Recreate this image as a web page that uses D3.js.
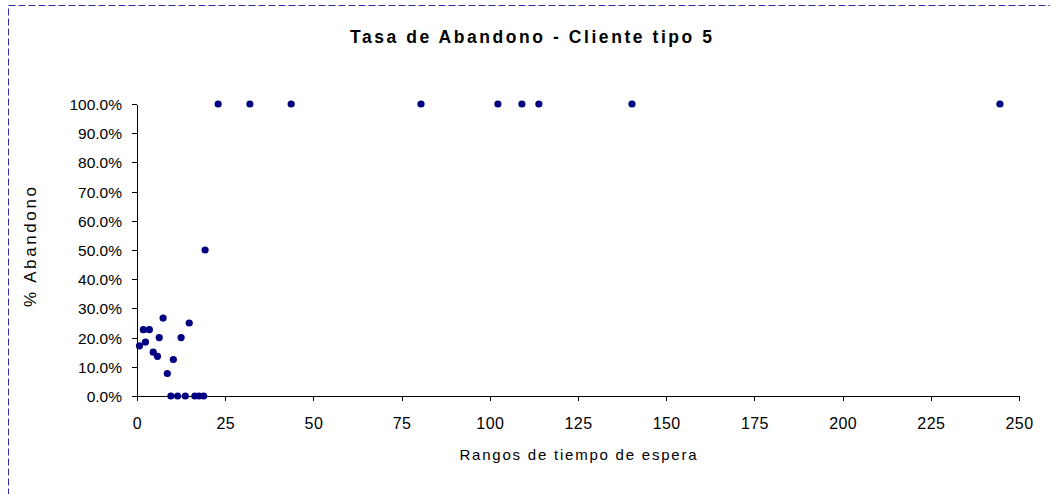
<!DOCTYPE html>
<html lang="en">
    <head>
        <meta charset="utf-8">
        <title>Tasa de Abandono - Cliente tipo 5</title>
        <script type="text/javascript" src="https://cdn.jsdelivr.net/npm/d3@7"></script>
        <style type="text/css">
            body { margin: 0; background: #fff; }
            svg { display: block; font-family: Arial, "Liberation Sans", sans-serif; }
        </style>
    </head>

    <body>
        <script type="text/javascript">
            // Tiempo de espera (x) y % de abandono (y)
            var tiempos = [0.7, 1.8, 3.5, 2.4, 7.4, 4.6, 5.8, 6.3, 14.8, 12.5, 10.3, 8.6, 19.3,
                           9.6, 11.5, 13.7, 16.4, 17.6, 18.9,
                           23.0, 32.0, 43.7, 80.5, 102.3, 109.1, 113.9, 140.3, 244.6];
            var abandono = [0.172, 0.227, 0.227, 0.185, 0.267, 0.150, 0.136, 0.200, 0.250, 0.200, 0.125, 0.077, 0.500,
                            0, 0, 0, 0, 0, 0,
                            1, 1, 1, 1, 1, 1, 1, 1, 1];
            var xTicks = [0, 25, 50, 75, 100, 125, 150, 175, 200, 225, 250];
            var yTicks = [0, 0.1, 0.2, 0.3, 0.4, 0.5, 0.6, 0.7, 0.8, 0.9, 1.0];

            var w = 1050;
            var h = 494;

            var svg = d3.select("body")
                        .append("svg")
                        .attr("width", w)
                        .attr("height", h);

            // marco del area del grafico (azul discontinuo)
            svg.append("rect")
                .attr("x", 8.5)
                .attr("y", 5.5)
                .attr("width", 1100)
                .attr("height", 600)
                .attr("fill", "none")
                .attr("stroke", "#2b2ba8")
                .attr("stroke-width", 1)
                .attr("stroke-dasharray", "7,3");

            var xScale = d3.scaleLinear()
                            .domain([0, 250])
                            .range([137, 1019]);
            var yScale = d3.scaleLinear()
                            .domain([0, 1])
                            .range([396, 104]);

            var xAxis = d3.axisBottom(xScale)
                            .tickValues(xTicks)
                            .tickSize(5)
                            .tickSizeOuter(0)
                            .tickFormat(d3.format("d"));
            var yAxis = d3.axisLeft(yScale)
                            .tickValues(yTicks)
                            .tickSize(5)
                            .tickSizeOuter(0)
                            .tickFormat(d3.format(".1%"));

            var gx = svg.append("g")
                .attr("transform", "translate(0,396)")
                .call(xAxis);
            gx.selectAll("text")
                .attr("dy", "0")
                .attr("y", 33)
                .attr("font-size", "16px")
                .attr("letter-spacing", "0.4px")
                .attr("font-family", "Arial, 'Liberation Sans', sans-serif")
                .attr("fill", "#000");

            var gy = svg.append("g")
                .attr("transform", "translate(137,0)")
                .call(yAxis);
            gy.selectAll("text")
                .attr("x", -15)
                .attr("dy", "0.36em")
                .attr("font-size", "15.5px")
                .attr("font-family", "Arial, 'Liberation Sans', sans-serif")
                .attr("fill", "#000");

            svg.selectAll(".domain, .tick line")
                .attr("stroke", "#000")
                .attr("shape-rendering", "crispEdges");

            // puntos
            svg.append("g")
                .selectAll("circle")
                .data(tiempos)
                .enter()
                .append("circle")
                .attr("cx", function(d) { return xScale(d); })
                .attr("cy", function(d, i) { return yScale(abandono[i]); })
                .attr("r", 3.6)
                .attr("fill", "#000080");

            // titulo y etiquetas de ejes
            svg.append("text")
                .text("Tasa de Abandono - Cliente tipo 5")
                .attr("x", 531)
                .attr("y", 43)
                .attr("text-anchor", "middle")
                .attr("font-size", "17.5px")
                .attr("font-weight", "bold")
                .attr("textLength", 362)
                .attr("lengthAdjust", "spacing");

            svg.append("text")
                .text("% Abandono")
                .attr("transform", "translate(36,247) rotate(-90)")
                .attr("text-anchor", "middle")
                .attr("font-size", "17px")
                .attr("textLength", 120)
                .attr("lengthAdjust", "spacing");

            svg.append("text")
                .text("Rangos de tiempo de espera")
                .attr("x", 578)
                .attr("y", 460)
                .attr("text-anchor", "middle")
                .attr("font-size", "15px")
                .attr("textLength", 237)
                .attr("lengthAdjust", "spacing");
        </script>
    </body>
</html>
